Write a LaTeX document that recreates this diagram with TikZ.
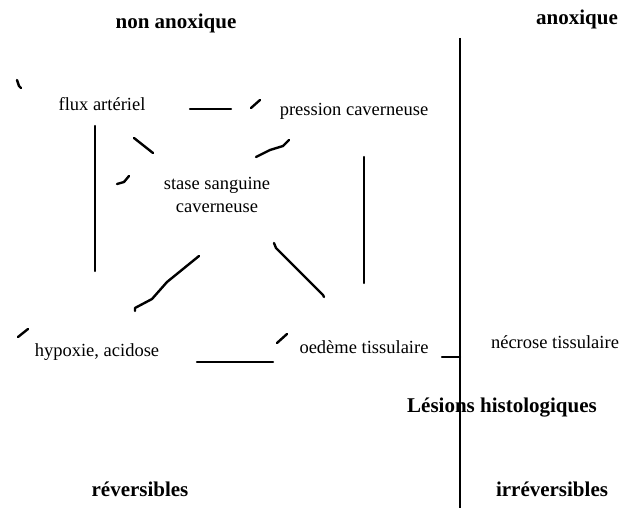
\documentclass[tikz,border=0pt]{standalone}
\usepackage{fontspec}
\setmainfont{Liberation Serif}

\begin{document}
\begin{tikzpicture}[x = 1pt, y = -1pt,
    txt/.style = { inner sep = 0pt, anchor = base, font = \fontsize{18.5}{23}\selectfont, align = center },
    heading/.style = { inner sep = 0pt, anchor = base, font = \fontsize{21}{25}\selectfont\bfseries },
    frag/.style = { line width = 2.4pt, line cap = round, line join = round }]
		\useasboundingbox (0,0) rectangle (626,508);

		% headings (placed on their baselines)
		\node [heading] (nonanox) at (176,29)  {non anoxique};
		\node [heading] (anox)    at (577,25)  {anoxique};
		\node [heading] (lesions) at (502,412) {Lésions histologiques};
		\node [heading] (rev)     at (140,496) {réversibles};
		\node [heading] (irrev)   at (552,496) {irréversibles};

		% states
		\node [txt] (flux)     at (102,111) {flux artériel};
		\node [txt] (pression) at (354,116) {pression caverneuse};
		\node [txt, anchor = center] (stase) at (217,195) {stase sanguine\\caverneuse};
		\node [txt] (hypoxie)  at (97,356)  {hypoxie, acidose};
		\node [txt] (oedeme)   at (364,353) {oedème tissulaire};
		\node [txt] (necrose)  at (555,348) {nécrose tissulaire};

		% the split between reversible and irreversible
		\coordinate (top) at (460,38);
		\coordinate (bot) at (460,508);
		\draw [line width = 2.8pt] (top) -- (bot);
		\draw [frag] (442,357) -- (top |- 0,357);

		% broken connectors, as they stand
		\draw [frag] (17,80) -- (19,86) -- (21,88);
		\draw [frag] (190,109) -- (231,109);
		\draw [frag] (251,108) -- (260,100);
		\draw [frag] (95,126) -- (95,271);
		\draw [frag] (134,138) -- (153,153);
		\draw [frag] (256,157) -- (270,150) -- (283,146) -- (289,140);
		\draw [frag] (117,184) -- (124,182) -- (129,176);
		\draw [frag] (364,157) -- (364,283);
		\draw [frag] (199,256) -- (167,282) -- (152,299) -- (135,308) -- (135,311);
		\draw [frag] (274,243) -- (276,248) -- (323,295) -- (324,297);
		\draw [frag] (18,337) -- (28,329);
		\draw [frag] (197,362) -- (273,362);
		\draw [frag] (277,343) -- (287,334);
	\end{tikzpicture}
\end{document}
